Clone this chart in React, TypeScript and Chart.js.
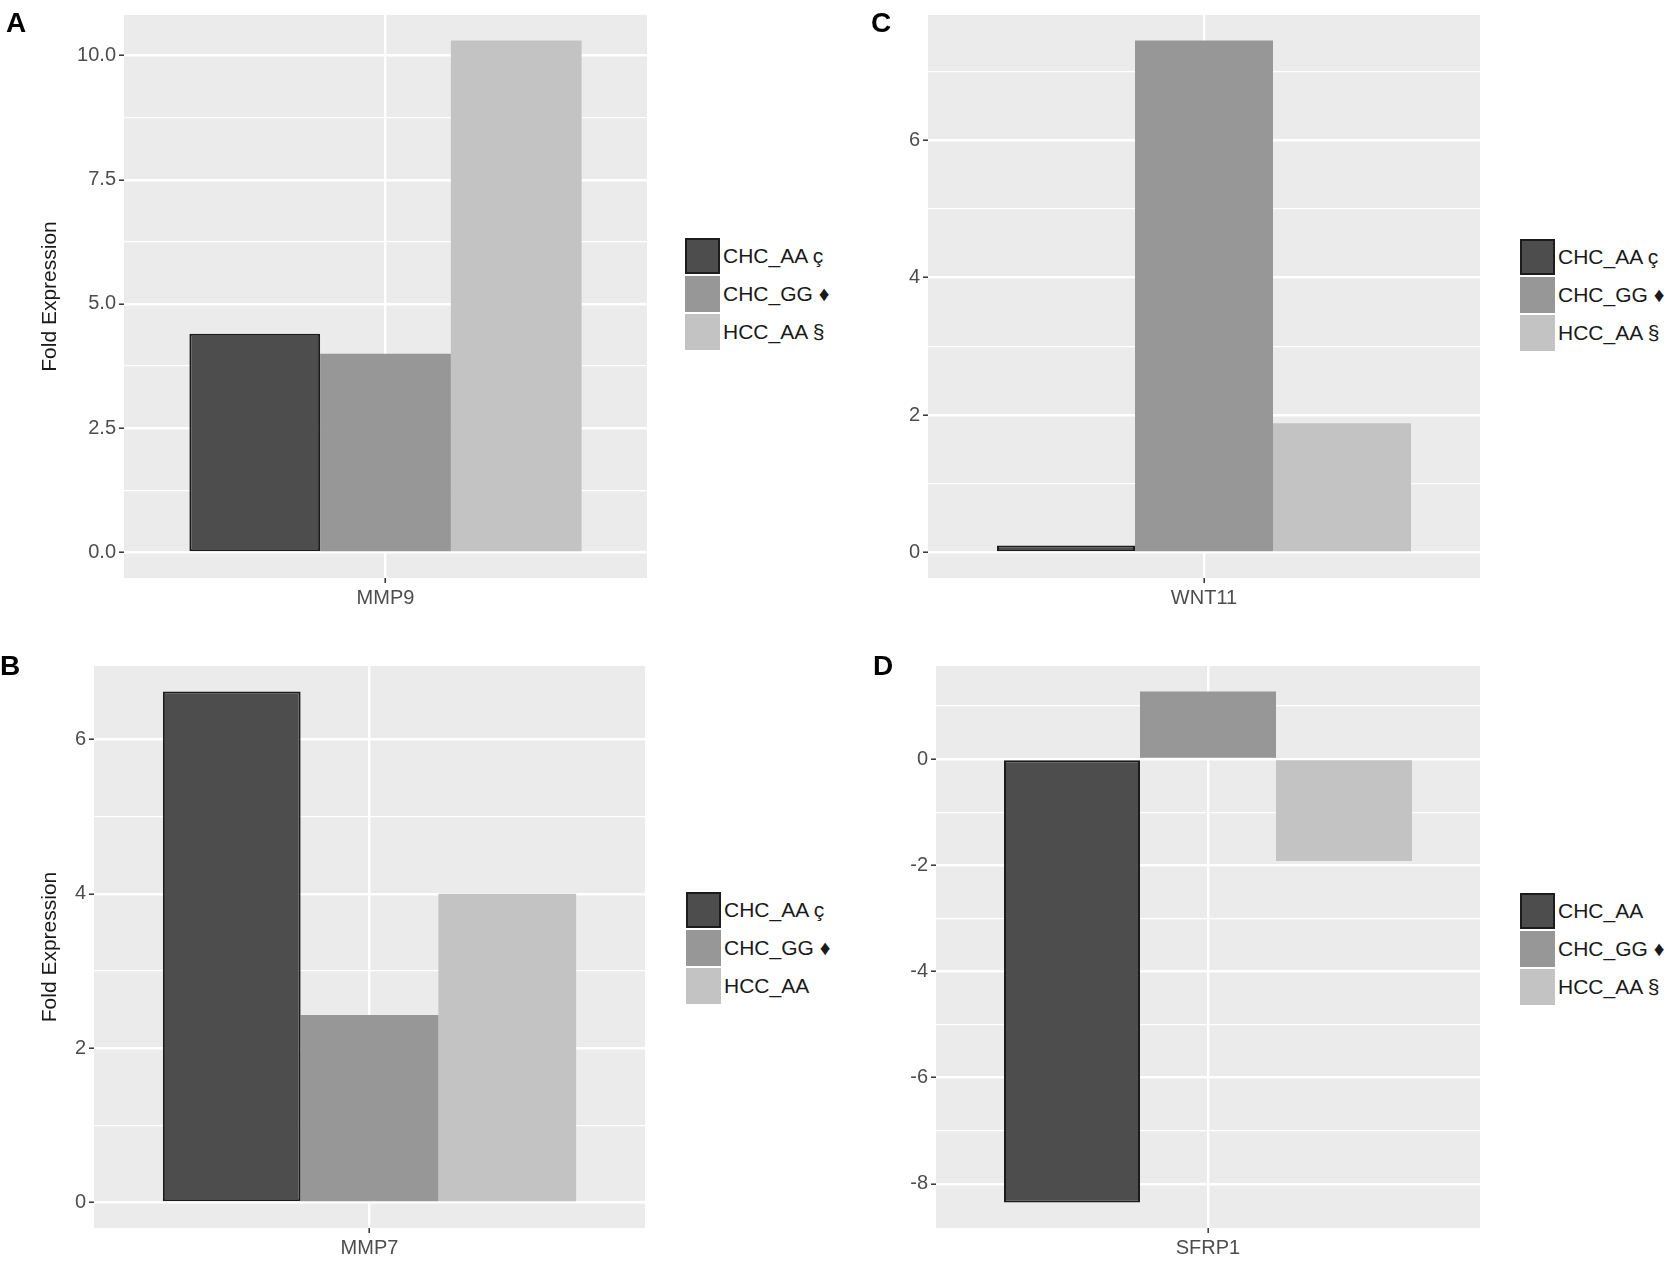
import React, { useEffect, useRef } from 'react'
import { Chart, registerables } from 'chart.js'

Chart.register(...registerables)

// one gene per panel, A, C, B, D
const genes = ['MMP9', 'WNT11', 'MMP7', 'SFRP1']
const chcAA = [4.4, 0.1, 6.62, -8.35]
const chcGG = [4.0, 7.45, 2.43, 1.27]
const hccAA = [10.3, 1.88, 4.0, -1.92]

const legendA = ['CHC_AA ç', 'CHC_GG ♦', 'HCC_AA §']
const legendC = ['CHC_AA ç', 'CHC_GG ♦', 'HCC_AA §']
const legendB = ['CHC_AA ç', 'CHC_GG ♦', 'HCC_AA']
const legendD = ['CHC_AA', 'CHC_GG ♦', 'HCC_AA §']

const majorA = [0, 2.5, 5, 7.5, 10]
const labelsA = ['0.0', '2.5', '5.0', '7.5', '10.0']
const minorA = [1.25, 3.75, 6.25, 8.75]

const majorC = [0, 2, 4, 6]
const labelsC = ['0', '2', '4', '6']
const minorC = [1, 3, 5, 7]

const majorB = [0, 2, 4, 6]
const labelsB = ['0', '2', '4', '6']
const minorB = [1, 3, 5]

const majorD = [-8, -6, -4, -2, 0]
const labelsD = ['-8', '-6', '-4', '-2', '0']
const minorD = [-7, -5, -3, -1, 1]

const fills = ['#4d4d4d', '#979797', '#c3c3c3']
const FONT = '"Liberation Sans", Arial, Helvetica, sans-serif'

const panelBg = {
  id: 'panelBg',
  beforeDraw(chart: any) {
    const { ctx, chartArea } = chart
    ctx.save()
    ctx.fillStyle = '#ebebeb'
    ctx.fillRect(chartArea.left, chartArea.top, chartArea.width, chartArea.height)
    ctx.restore()
  },
}

type Box = { left: number; top: number; width: number; height: number; plotLeft: number; plotTop: number; plotRight: number; plotBottom: number }

type PanelProps = {
  letter: string
  index: number
  legend: string[]
  major: number[]
  labels: string[]
  minor: number[]
  yTitle: boolean
  box: Box
  letterPos: [number, number]
  legendPos: [number, number]
}

const Panel = ({ letter, index, legend, major, labels, minor, yTitle, box, letterPos, legendPos }: PanelProps) => {
  const chartRef = useRef<HTMLCanvasElement>(null)

  useEffect(() => {
    if (!chartRef.current) return
    const ctx = chartRef.current.getContext('2d')
    if (!ctx) return

    const vals = [chcAA[index], chcGG[index], hccAA[index]]
    const lo = Math.min(0, ...vals)
    const hi = Math.max(0, ...vals)
    const pad = (hi - lo) * 0.05
    const isMajor = (v: number) => major.some((m) => Math.abs(m - v) < 1e-9)

    const chart = new Chart(ctx, {
      type: 'bar',
      data: {
        labels: [genes[index]],
        datasets: [chcAA, chcGG, hccAA].map((s, i) => ({
          label: legend[i],
          data: [s[index]],
          backgroundColor: fills[i],
          borderColor: i === 0 ? '#1c1c1c' : fills[i],
          borderWidth: i === 0 ? 2 : 0,
          borderSkipped: false,
          categoryPercentage: 0.75,
          barPercentage: 1,
        })),
      },
      options: {
        animation: false,
        responsive: true,
        maintainAspectRatio: false,
        layout: {
          padding: {
            left: 0,
            top: box.plotTop - box.top,
            right: box.left + box.width - box.plotRight,
            bottom: 0,
          },
        },
        plugins: { legend: { display: false }, tooltip: { enabled: false } },
        scales: {
          x: {
            offset: true,
            border: { display: false },
            grid: { offset: false, color: '#ffffff', lineWidth: 2.4, tickLength: 5, tickColor: '#333333', tickWidth: 1.5 },
            ticks: { color: '#4d4d4d', font: { family: FONT, size: 20 }, padding: 3 },
            afterFit: (s: any) => {
              s.height = box.top + box.height - box.plotBottom
            },
          },
          y: {
            min: lo - pad,
            max: hi + pad,
            border: { display: false },
            afterBuildTicks: (s: any) => {
              s.ticks = [...major, ...minor].sort((a, b) => a - b).map((v) => ({ value: v }))
            },
            grid: {
              color: '#ffffff',
              lineWidth: (c: any) => (isMajor(c.tick.value) ? 2.4 : 1.2),
              tickLength: 5,
              tickWidth: 1.5,
              tickColor: (c: any) => (isMajor(c.tick.value) ? '#333333' : 'rgba(0,0,0,0)'),
            },
            ticks: {
              autoSkip: false,
              color: '#4d4d4d',
              font: { family: FONT, size: 20 },
              padding: 3,
              callback: (v: any) => {
                const k = major.findIndex((m) => Math.abs(m - Number(v)) < 1e-9)
                return k >= 0 ? labels[k] : ''
              },
            },
            title: {
              display: yTitle,
              text: 'Fold Expression',
              color: '#1a1a1a',
              font: { family: FONT, size: 21 },
              padding: { top: 38, bottom: 0 },
            },
            afterFit: (s: any) => {
              s.width = box.plotLeft - box.left
            },
          },
        },
      },
      plugins: [panelBg],
    })

    return () => {
      chart.destroy()
    }
  }, [])

  return (
    <>
      <div style={{ position: 'absolute', left: box.left, top: box.top, width: box.width, height: box.height }}>
        <canvas ref={chartRef} />
      </div>
      <div
        style={{
          position: 'absolute',
          left: letterPos[0],
          top: letterPos[1],
          fontFamily: FONT,
          fontWeight: 'bold',
          fontSize: 28,
          lineHeight: '28px',
          color: '#000',
        }}
      >
        {letter}
      </div>
      <div style={{ position: 'absolute', left: legendPos[0], top: legendPos[1], zIndex: 2 }}>
        {legend.map((t, i) => (
          <div key={t} style={{ display: 'flex', alignItems: 'center', height: 36, marginBottom: 2 }}>
            <div style={{ width: 35, height: 36, background: fills[i], boxSizing: 'border-box', border: i === 0 ? '2px solid #1c1c1c' : 'none' }} />
            <span style={{ marginLeft: 3, fontFamily: FONT, fontSize: 21, color: '#1a1a1a', whiteSpace: 'nowrap' }}>{t}</span>
          </div>
        ))}
      </div>
    </>
  )
}

export default function App() {
  return (
    <div style={{ position: 'absolute', left: 0, top: 0, width: 1678, height: 1265, background: '#ffffff', overflow: 'hidden' }}>
      <Panel
        letter="A"
        index={0}
        legend={legendA}
        major={majorA}
        labels={labelsA}
        minor={minorA}
        yTitle={true}
        box={{ left: 0, top: 0, width: 680, height: 630, plotLeft: 124, plotTop: 14, plotRight: 647, plotBottom: 578 }}
        letterPos={[6, 9]}
        legendPos={[685, 238]}
      />
      <Panel
        letter="C"
        index={1}
        legend={legendC}
        major={majorC}
        labels={labelsC}
        minor={minorC}
        yTitle={false}
        box={{ left: 840, top: 0, width: 660, height: 630, plotLeft: 928, plotTop: 14, plotRight: 1480, plotBottom: 578 }}
        letterPos={[871, 9]}
        legendPos={[1520, 239]}
      />
      <Panel
        letter="B"
        index={2}
        legend={legendB}
        major={majorB}
        labels={labelsB}
        minor={minorB}
        yTitle={true}
        box={{ left: 0, top: 640, width: 680, height: 625, plotLeft: 94, plotTop: 666, plotRight: 645, plotBottom: 1228 }}
        letterPos={[0, 652]}
        legendPos={[686, 892]}
      />
      <Panel
        letter="D"
        index={3}
        legend={legendD}
        major={majorD}
        labels={labelsD}
        minor={minorD}
        yTitle={false}
        box={{ left: 840, top: 640, width: 660, height: 625, plotLeft: 936, plotTop: 666, plotRight: 1480, plotBottom: 1228 }}
        letterPos={[873, 652]}
        legendPos={[1520, 893]}
      />
    </div>
  )
}
